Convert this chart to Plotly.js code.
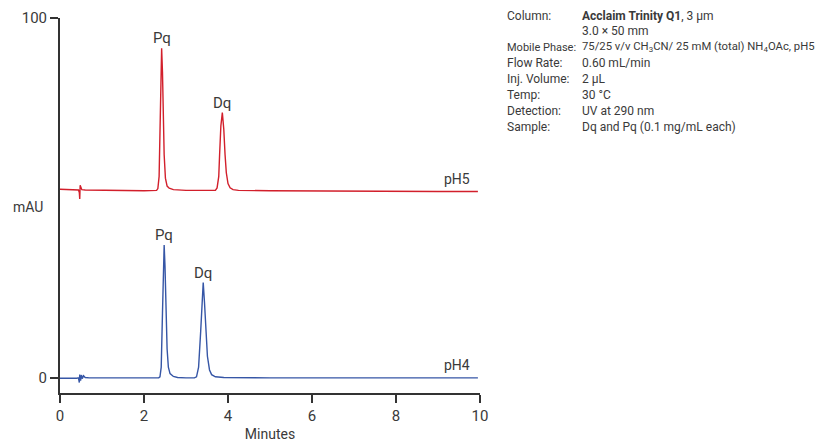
<!DOCTYPE html>
<html>
<head>
<meta charset="utf-8">
<script src="https://cdn.plot.ly/plotly-3.0.1.min.js"></script>
<style>html,body{margin:0;padding:0;background:#fff;}#chart{width:817px;height:442px;}</style>
</head>
<body>
<div id="chart"></div>
<script>
// pH5 trace (red) - time (min) and signal (mAU, offset trace)
const ph5Time = [0, 0.3, 0.44, 0.46, 0.47, 0.48, 0.5, 0.52, 0.6, 1.0, 1.5, 2.0, 2.3, 2.33, 2.36, 2.38, 2.40, 2.42, 2.44, 2.46, 2.48, 2.51, 2.55, 2.6, 2.7, 3.0, 3.5, 3.7, 3.74, 3.78, 3.80, 3.83, 3.865, 3.90, 3.93, 3.96, 4.0, 4.05, 4.12, 4.25, 5, 6, 7, 8, 9, 9.95];
const ph5Signal = [52.4, 52.3, 52.2, 51.5, 49.7, 53.5, 52.8, 52.3, 52.2, 52.1, 52.1, 52.0, 52.1, 52.6, 56, 70, 86, 91.6, 85, 71, 62, 55.5, 53.3, 52.7, 52.3, 52.1, 52.0, 52.1, 52.8, 56, 62, 70, 73.7, 69, 62, 57, 54, 52.8, 52.3, 52.1, 52.0, 51.9, 51.9, 51.8, 51.8, 51.8];

// pH4 trace (blue)
const ph4Time = [0, 0.2, 0.4, 0.44, 0.46, 0.47, 0.49, 0.51, 0.53, 0.56, 0.6, 0.7, 1.0, 1.5, 2.0, 2.35, 2.38, 2.41, 2.44, 2.46, 2.48, 2.50, 2.52, 2.55, 2.58, 2.62, 2.7, 2.8, 3.0, 3.2, 3.25, 3.3, 3.35, 3.38, 3.41, 3.44, 3.47, 3.51, 3.56, 3.61, 3.7, 3.9, 5, 6, 7, 8, 9, 9.95];
const ph4Signal = [-0.1, -0.2, -0.1, 0, -1.3, 0.9, -0.8, 0.8, -0.2, 0.6, 0.1, 0, 0, 0.1, 0, 0, 0.3, 3, 18, 31, 36.9, 31, 18, 8, 3, 1.2, 0.4, 0.1, 0, 0, 0.3, 3, 13, 21, 26.5, 21, 13, 6, 2.2, 0.9, 0.3, 0.1, 0, 0, 0, 0, 0, 0];

// peak labels
const peakNames = ["Pq", "Dq", "Pq", "Dq"];
const peakTimes = [2.42, 3.865, 2.48, 3.41];
const peakHeights = [91.6, 73.7, 36.9, 26.5];

// trace labels
const traceNames = ["pH5", "pH4"];
const traceLabelTime = [9.45, 9.45];
const traceLabelLevel = [55.4, 3.6];

// axis ticks
const xTicks = [0, 2, 4, 6, 8, 10];
const yTicks = [0, 100];

// conditions panel
const condLabels = ["Column:", "", "Mobile Phase:", "Flow Rate:", "Inj. Volume:", "Temp:", "Detection:", "Sample:"];
const condValues = ["<b>Acclaim Trinity Q1</b>, 3 µm", "3.0 × 50 mm", "75/25 v/v CH<sub>3</sub>CN/ 25 mM (total) NH<sub>4</sub>OAc, pH5", "0.60 mL/min", "2 µL", "30 °C", "UV at 290 nm", "Dq and Pq (0.1 mg/mL each)"];

const FONT = "Roboto, 'Liberation Sans', sans-serif";
const TXT = "#3a3a3a";

// plot area in pixels
const L = 60, R = 480, T = 18, B = 393;
const px2x = p => (p - L) / (R - L);
const py2y = p => (B - p) / (B - T);

const traces = [
  {x: ph5Time, y: ph5Signal, type: "scatter", mode: "lines", line: {color: "#d21f2b", width: 1.4}, hoverinfo: "skip"},
  {x: ph4Time, y: ph4Signal, type: "scatter", mode: "lines", line: {color: "#3656a6", width: 1.4}, hoverinfo: "skip"}
];

const annotations = [];
peakNames.forEach((n, i) => annotations.push({
  x: peakTimes[i], y: peakHeights[i], xref: "x", yref: "y", text: n, showarrow: false,
  xanchor: "center", yanchor: "bottom", yshift: -1, font: {family: FONT, size: 15, color: TXT}
}));
traceNames.forEach((n, i) => annotations.push({
  x: traceLabelTime[i], y: traceLabelLevel[i], xref: "x", yref: "y", text: n, showarrow: false,
  xanchor: "center", yanchor: "middle", font: {family: FONT, size: 14, color: TXT}
}));
annotations.push({x: px2x(11), y: py2y(207), xref: "paper", yref: "paper", text: "mAU", showarrow: false,
  xanchor: "left", yanchor: "middle", font: {family: FONT, size: 14, color: TXT}});

const rowY = [16, 31, 47, 63, 79, 95, 111, 127];
condLabels.forEach((t, i) => {
  if (t) annotations.push({x: px2x(505), y: py2y(rowY[i]), xref: "paper", yref: "paper", text: t, showarrow: false,
    xanchor: "left", yanchor: "middle", font: {family: FONT, size: i === 2 ? 11 : 12, color: TXT}});
  annotations.push({x: px2x(580), y: py2y(rowY[i]), xref: "paper", yref: "paper", text: condValues[i], showarrow: false,
    xanchor: "left", yanchor: "middle", font: {family: FONT, size: i === 2 ? 11.3 : 12, color: TXT}});
});

const layout = {
  width: 817, height: 442,
  margin: {l: L, r: 817 - R, t: T, b: 442 - B, pad: 0},
  paper_bgcolor: "#fff", plot_bgcolor: "#fff",
  showlegend: false,
  font: {family: FONT, color: TXT, size: 15},
  xaxis: {
    range: [0, 10], tickvals: xTicks, ticktext: xTicks.map(String),
    showgrid: false, zeroline: false, showline: true, linecolor: "#333", linewidth: 2,
    ticks: "outside", ticklen: 8, tickwidth: 1.5, tickcolor: "#333",
    tickfont: {family: FONT, size: 15, color: TXT},
    title: {text: "Minutes", font: {family: FONT, size: 14, color: TXT}, standoff: 8}
  },
  yaxis: {
    range: [-4.2, 100], tickvals: yTicks, ticktext: yTicks.map(String),
    showgrid: false, zeroline: false, showline: true, linecolor: "#333", linewidth: 2,
    ticks: "outside", ticklen: 8, tickwidth: 1.5, tickcolor: "#333",
    tickfont: {family: FONT, size: 15, color: TXT}
  },
  annotations: annotations
};

Plotly.newPlot("chart", traces, layout, {staticPlot: true, displayModeBar: false});
</script>
</body>
</html>
